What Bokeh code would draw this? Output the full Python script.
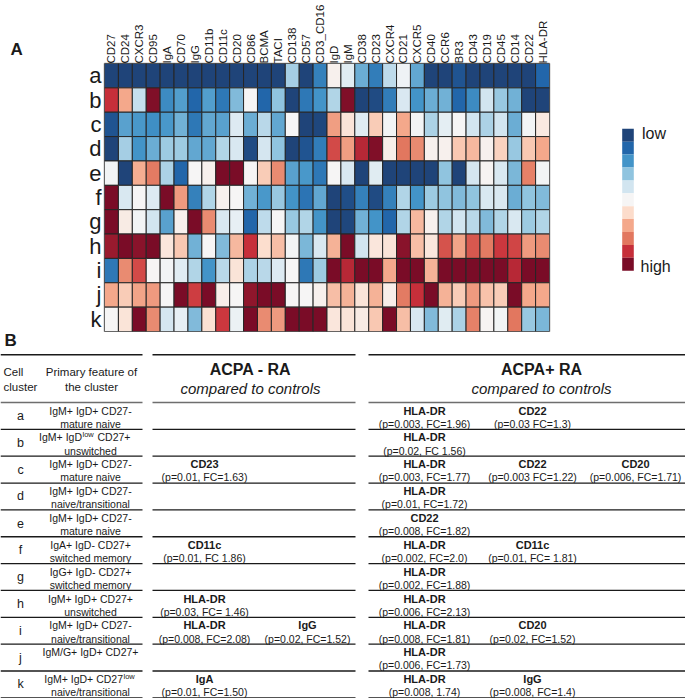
import numpy as np
from bokeh.plotting import figure
from bokeh.models import FactorRange, Range1d, ColumnDataSource, LinearColorMapper
from bokeh.layouts import column, row
from bokeh.embed import file_html
from bokeh.resources import INLINE
from bokeh.core.properties import value
from bokeh.transform import transform

# ---------------- data ----------------
markers = ["CD27", "CD24", "CXCR3", "CD95", "IgA", "CD70", "IgG", "CD11b", "CD11c", "CD20",
           "CD86", "BCMA", "TACI", "CD138", "CD57", "CD3_CD16", "IgD", "IgM", "CD38", "CD23",
           "CXCR4", "CD21", "CXCR5", "CD40", "CCR6", "BR3", "CD43", "CD19", "CD45", "CD14",
           "CD22", "HLA-DR"]
clusters = ["a", "b", "c", "d", "e", "f", "g", "h", "i", "j", "k"]

# expression level, 0 = low ... 10 = high
row_a = [0, 0, 0, 0, 0, 0, 0, 0, 0, 0, 0, 0, 0, 3.3, 0, 1.6, 5.2, 4.4, 2.5, 1.5,
         3.7, 4.8, 2.4, 0, 0, 0.5, 0, 0, 0, 0, 0, 1.0]
row_b = [9, 7, 3.8, 9.9, 1.8, 2.2, 1, 2.2, 1.4, 2.8, 5, 1, 3, 0, 1.4, 2, 3.5, 9.9, 0, 0.2,
         1.5, 4.2, 2, 2.5, 2.6, 1, 1.8, 4, 3.1, 2.6, 0, 0]
row_c = [0.5, 2.3, 2.1, 1.9, 2.1, 2.6, 1.4, 2.4, 2.3, 4.3, 2.5, 3.6, 2.4, 5, 0, 0.1, 7.2, 5.7, 4.4, 6.3,
         4.9, 7, 4.9, 3.4, 4.5, 5, 4, 3.4, 4, 2.5, 4.9, 5.5]
row_d = [0, 3.3, 2, 2.5, 3.2, 3.2, 2.4, 2.4, 3.5, 4.2, 0.2, 4.1, 3, 0, 0.5, 1.5, 8.6, 7.2, 9.2, 9.9,
         5.3, 8, 7.6, 5.2, 5.2, 6.4, 6.7, 5.2, 6.2, 3.1, 6.4, 7]
row_e = [4.9, 0, 6.9, 7.9, 3.4, 1, 5, 5.2, 10, 10, 5, 6.3, 7.6, 2.3, 2.1, 1.4, 5, 4.2, 0, 4.4,
         0, 0, 0, 0, 3, 0, 4.1, 5.1, 4.2, 2.7, 7.8, 4.9]
row_f = [10, 4.2, 5, 4.3, 10, 7.3, 1.6, 3.5, 5.2, 5, 2.6, 2.1, 3.1, 2, 1.3, 2.4, 0, 0.3, 1.6, 0.2,
         1.6, 3.5, 2, 3.2, 3, 2.8, 3, 4.2, 4.2, 2.5, 3, 2.8]
row_g = [10, 5.4, 4.9, 4, 2.3, 5.2, 10, 7.6, 4.2, 4.6, 1, 3.7, 5, 3.1, 3.5, 2, 0, 0.1, 2.6, 2,
         1, 3.5, 6.7, 5.2, 3.5, 4, 3.6, 2.8, 3.5, 4.2, 3.2, 3.5]
row_h = [9.6, 10, 9.8, 10, 5.6, 6.4, 2.6, 5, 2.8, 6.7, 9, 5.9, 6.6, 4.9, 2.7, 4.2, 6.8, 10, 4, 5.6,
         5.7, 9.8, 6.6, 5.6, 8.5, 7.1, 8.4, 7.9, 8.9, 8.7, 7.3, 7.6]
row_i = [1.4, 7.6, 8.6, 5, 4.9, 4.4, 3.5, 2, 3.6, 5.7, 3.4, 3.6, 4.3, 5, 1.4, 3.2, 10, 9.2, 10, 10,
         7, 10, 10, 6.8, 10, 10, 10, 10, 10, 9.2, 10, 10]
row_j = [7, 6.3, 7.1, 7.3, 5, 10, 8.8, 10, 5.3, 5, 9.7, 10, 10, 5, 5, 5.2, 6.6, 6.8, 5.7, 6.8,
         5.3, 7.9, 9, 10, 6.8, 6.3, 7.3, 6.5, 6.3, 10, 7, 7]
row_k = [5, 5.7, 10, 7.6, 4.1, 4.6, 2.8, 5.8, 8.9, 4.7, 10, 7.6, 7.3, 10, 10, 10, 5.6, 5.7, 5.4, 6.4,
         10, 6.6, 4.2, 2.8, 4.4, 3.4, 7.8, 5.1, 4.9, 8, 3.1, 2.7]
heat_rows = [row_a, row_b, row_c, row_d, row_e, row_f, row_g, row_h, row_i, row_j, row_k]

legend_levels = list(range(11))
legend_low, legend_high = "low", "high"
panel_a, panel_b = "A", "B"

# table B
feat_main = ["IgM+ IgD+ CD27-", "IgM+ IgD", "IgM+ IgD+ CD27-", "IgM+ IgD+ CD27-", "IgM+ IgD+ CD27-",
             "IgA+ IgD- CD27+", "IgG+ IgD- CD27+", "IgM+ IgD+ CD27+", "IgM+ IgD+ CD27-",
             "IgM/G+ IgD+ CD27+", "IgM+ IgD+ CD27"]
feat_sup = ["", "low", "", "", "", "", "", "", "", "", "low"]
feat_tail = ["", "CD27+", "", "", "", "", "", "", "", "", ""]
feat_line2 = ["mature naive", "unswitched", "mature naive", "naive/transitional", "mature naive",
              "switched memory", "switched memory", "unswitched", "naive/transitional", "",
              "naive/transitional"]
acpa_neg = {
    "c": [("CD23", "(p=0.01, FC=1.63)")],
    "f": [("CD11c", "(p=0.01, FC 1.86)")],
    "h": [("HLA-DR", "(p=0.03, FC= 1.46)")],
    "i": [("HLA-DR", "(p=0.008, FC=2.08)"), ("IgG", "(p=0.02, FC=1.52)")],
    "k": [("IgA", "(p=0.01, FC=1.50)")],
}
acpa_pos = {
    "a": [("HLA-DR", "(p=0.003, FC=1.96)"), ("CD22", "(p=0.03 FC=1.3)")],
    "b": [("HLA-DR", "(p=0.02, FC 1.56)")],
    "c": [("HLA-DR", "(p=0.003, FC=1.77)"), ("CD22", "(p=0.003 FC=1.22)"), ("CD20", "(p=0.006, FC=1.71)")],
    "d": [("HLA-DR", "(p=0.01, FC=1.72)")],
    "e": [("CD22", "(p=0.008, FC=1.82)")],
    "f": [("HLA-DR", "(p=0.002, FC=2.0)"), ("CD11c", "(p=0.01, FC= 1.81)")],
    "g": [("HLA-DR", "(p=0.002, FC=1.88)")],
    "h": [("HLA-DR", "(p=0.006, FC=2.13)")],
    "i": [("HLA-DR", "(p=0.008, FC=1.81)"), ("CD20", "(p=0.02, FC=1.52)")],
    "j": [("HLA-DR", "(p=0.006, FC=1.73)")],
    "k": [("HLA-DR", "(p=0.008, 1.74)"), ("IgG", "(p=0.008, FC=1.4)")],
}

# ---------------- style ----------------
FONT = "Liberation Sans"
TXT = "#1a1a1a"
anchors = ["#1f4479", "#2267ab", "#4394c8", "#92c5df", "#d2e5f0", "#f6f6f6",
           "#fcdccb", "#f4a98c", "#e2775f", "#c8303a", "#7a0c27"]


def interp_palette(cols, n=256):
    rgb = np.array([[int(c[i:i + 2], 16) for i in (1, 3, 5)] for c in cols], float)
    out = []
    for t in np.linspace(0, len(cols) - 1, n):
        i = min(int(t), len(cols) - 2)
        f = t - i
        c = rgb[i] * (1 - f) + rgb[i + 1] * f
        out.append("#%02x%02x%02x" % tuple(int(round(v)) for v in c))
    return out


mapper = LinearColorMapper(palette=interp_palette(anchors), low=0, high=10)

W_A, W_HEAT, TOP_H, TOTAL_W, TOTAL_H = 24, 527, 332, 685, 698
FRAME_TOP, FRAME_BOTTOM = 63, 331   # plot frame (shared by the figures of the top row)


def blank(width, height, xr, yr, **kw):
    f = figure(width=width, height=height, x_range=Range1d(*xr), y_range=Range1d(*yr),
               x_axis_location=None, y_axis_location=None, tools="", toolbar_location=None,
               output_backend="svg", min_border=0, outline_line_color=None, **kw)
    f.grid.grid_line_color = None
    return f


def put(fig, x, y, text, size, style="normal", align="center"):
    fig.text(x=x, y=y, text=text, text_font=value(FONT), text_font_size=size,
             text_font_style=style, text_color=TXT, text_align=align, text_baseline="middle")


# ---------------- panel letter A ----------------
afig = blank(W_A, TOP_H, (0, W_A), (FRAME_BOTTOM, FRAME_TOP), title=panel_a)
afig.title.text_font = FONT
afig.title.text_font_size = "17px"
afig.title.text_font_style = "bold"
afig.title.text_color = TXT
afig.title.align = "left"
afig.title.offset = 10
afig.title.standoff = 10

# ---------------- heatmap ----------------
xs, ys, vs = [], [], []
for cl, vals in zip(clusters, heat_rows):
    for m, v in zip(markers, vals):
        xs.append(m)
        ys.append(cl)
        vs.append(v)
src = ColumnDataSource(dict(marker=xs, cluster=ys, val=vs))

heat = figure(width=W_HEAT, height=TOP_H,
              x_range=FactorRange(*markers, range_padding=0),
              y_range=FactorRange(*clusters[::-1], range_padding=0),
              x_axis_location="above", tools="", toolbar_location=None,
              output_backend="svg", min_border_left=80, min_border_right=2,
              min_border_top=FRAME_TOP, min_border_bottom=TOP_H - FRAME_BOTTOM)
heat.rect(x="marker", y="cluster", width=1, height=1, source=src,
          fill_color=transform("val", mapper), line_color="#262626", line_width=1)
heat.grid.grid_line_color = None
heat.outline_line_color = "#8c8c8c"
heat.outline_line_width = 1.5
for ax in (heat.xaxis[0], heat.yaxis[0]):
    ax.axis_line_color = None
    ax.major_tick_line_color = None
    ax.minor_tick_line_color = None
    ax.major_tick_out = 0
    ax.major_tick_in = 0
    ax.axis_label_standoff = 0
    ax.major_label_text_font = FONT
    ax.major_label_text_color = TXT
heat.xaxis.major_label_orientation = "vertical"
heat.xaxis.major_label_text_font_size = "11.5px"
heat.xaxis.major_label_standoff = 0
heat.yaxis.major_label_text_font_size = "22px"
heat.yaxis.major_label_standoff = 3

# ---------------- legend ----------------
leg = blank(TOTAL_W - W_A - W_HEAT, TOP_H, (W_A + W_HEAT, TOTAL_W), (FRAME_BOTTOM, FRAME_TOP))
LEG_X, LEG_TOP, LEG_H = 627.5, 128.3, 12.9
leg_src = ColumnDataSource(dict(lvl=legend_levels,
                                y=[LEG_TOP + (l + 0.5) * LEG_H for l in legend_levels]))
leg.rect(x=LEG_X, y="y", width=11.6, height=LEG_H, source=leg_src,
         fill_color=transform("lvl", mapper), line_color=None)
put(leg, [641.5, 640], [132.5, 266], [legend_low, legend_high], "16px", align="left")

# ---------------- table ----------------
tbl = blank(TOTAL_W, TOTAL_H - TOP_H, (0, TOTAL_W), (TOTAL_H, TOP_H))
TOP, HDR, RH = 354.3, 402.0, 26.85
sections = [(0, 142), (152, 355), (368, 690)]
COL_FEAT, COL_CL = 90, 20
NEG_X = [204, 307]
POS_X = [424, 532, 635]


def hlines(y, color, w):
    tbl.segment(x0=[s[0] for s in sections], x1=[s[1] for s in sections],
                y0=[y] * 3, y1=[y] * 3, line_color=color, line_width=w)


hlines(TOP, "#1a1a1a", 1.6)
hlines(HDR, "#6e6e6e", 1.3)
for i in range(len(clusters)):
    hlines(HDR + (i + 1) * RH, "#1a1a1a", 1.3)

put(tbl, [4], [340], [panel_b], "17px", "bold", "left")
put(tbl, [3, 3], [371.7, 386.7], ["Cell", "cluster"], "11.5px", align="left")
put(tbl, [91, 91], [371.7, 386.7], ["Primary feature of", "the cluster"], "11.5px")
put(tbl, [250, 541], [369, 369], ["ACPA - RA", "ACPA+ RA"], "16px", "bold")
put(tbl, [250, 541], [388, 388], ["compared to controls"] * 2, "15px", "italic")

sup_anchor = {1: 81.5, 10: 122.5}
for i, cl in enumerate(clusters):
    top = HDR + i * RH
    y1, y2 = top + 0.30 * RH, top + 0.79 * RH
    put(tbl, [COL_CL], [top + 0.5 * RH], [cl], "12.5px")
    if feat_sup[i]:
        ax = sup_anchor[i]
        put(tbl, [ax], [y1], [feat_main[i]], "10.5px", align="right")
        put(tbl, [ax + 0.5], [y1 - 2.5], [feat_sup[i]], "7.5px", align="left")
        if feat_tail[i]:
            put(tbl, [ax + 15.5], [y1], [feat_tail[i]], "10.5px", align="left")
    else:
        put(tbl, [COL_FEAT], [y1], [feat_main[i]], "10.5px")
    if feat_line2[i]:
        put(tbl, [COL_FEAT], [y2], [feat_line2[i]], "10.5px")
    for xs_, d in ((NEG_X, acpa_neg), (POS_X, acpa_pos)):
        for k, (mk, stat) in enumerate(d.get(cl, [])):
            put(tbl, [xs_[k]], [y1], [mk], "11px", "bold")
            put(tbl, [xs_[k]], [y2], [stat], "10.5px")

layout = column(row(afig, heat, leg), tbl)
open("out.html", "w").write(file_html(layout, INLINE))
